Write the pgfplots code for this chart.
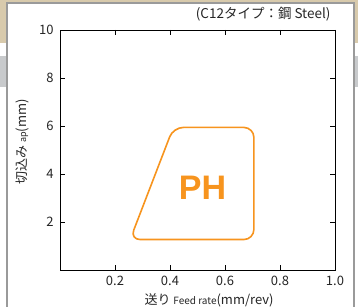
\documentclass[border=0pt]{standalone}
\usepackage{fontspec}
\setmainfont{Noto Sans CJK JP}
\newfontfamily\phfont{Liberation Sans}
\usepackage{pgfplots}
\pgfplotsset{compat=1.18}
\definecolor{phorange}{HTML}{F7941E}
\definecolor{wood}{HTML}{D8CAAC}
\definecolor{strip}{HTML}{C8CACC}
\definecolor{cardedge}{HTML}{9A9A9A}
\begin{document}
\begin{tikzpicture}[x=1pt,y=1pt]
\useasboundingbox (0,0) rectangle (358,307);
\fill[white] (0,0) rectangle (358,307);
\fill[wood] (0,264) rectangle (358,307);
\fill[strip] (0,220) rectangle (358,251);
\filldraw[fill=white,draw=cardedge,line width=1.2pt] (7,-5) rectangle (354,304);
\begin{axis}[
  at={(60pt,37pt)}, anchor=south west,
  width=275pt, height=240pt, scale only axis,
  xmin=0, xmax=1, ymin=0, ymax=10,
  xtick={0.2,0.4,0.6,0.8,1.0}, ytick={2,4,6,8,10},
  tick align=inside, major tick length=5pt,
  tick style={black, line width=0.8pt},
  axis line style={black, line width=0.9pt},
  /pgf/number format/assume math mode=true,
  xticklabel style={/pgf/number format/fixed, /pgf/number format/fixed zerofill, /pgf/number format/precision=1, yshift=-3pt},
  ticklabel style={font=\fontsize{13}{15}\selectfont, text=black!85},
  yticklabel style={xshift=-3pt},
  clip=false,
]
\addplot[phorange, line width=1.6pt, rounded corners=10pt, mark=none]
  coordinates {(0.255,1.27) (0.412,5.94) (0.705,5.94) (0.705,1.27)} -- cycle;
\node[text=phorange, font=\phfont\bfseries\fontsize{34}{36}\selectfont] at (axis cs:0.518,3.44) {PH};
\end{axis}
\node[anchor=east, text=black!85, font=\fontsize{13.5}{15}\selectfont] at (334,293) {(C12タイプ：鋼 Steel)};
\node[text=black!85, font=\fontsize{13}{15}\selectfont] at (209,7) {送り {\fontsize{10}{12}\selectfont Feed rate}(mm/rev)};
\node[rotate=90, text=black!85, font=\fontsize{13}{15}\selectfont] at (22,165) {切込み {\fontsize{9}{11}\selectfont ap}(mm)};
\end{tikzpicture}
\end{document}
